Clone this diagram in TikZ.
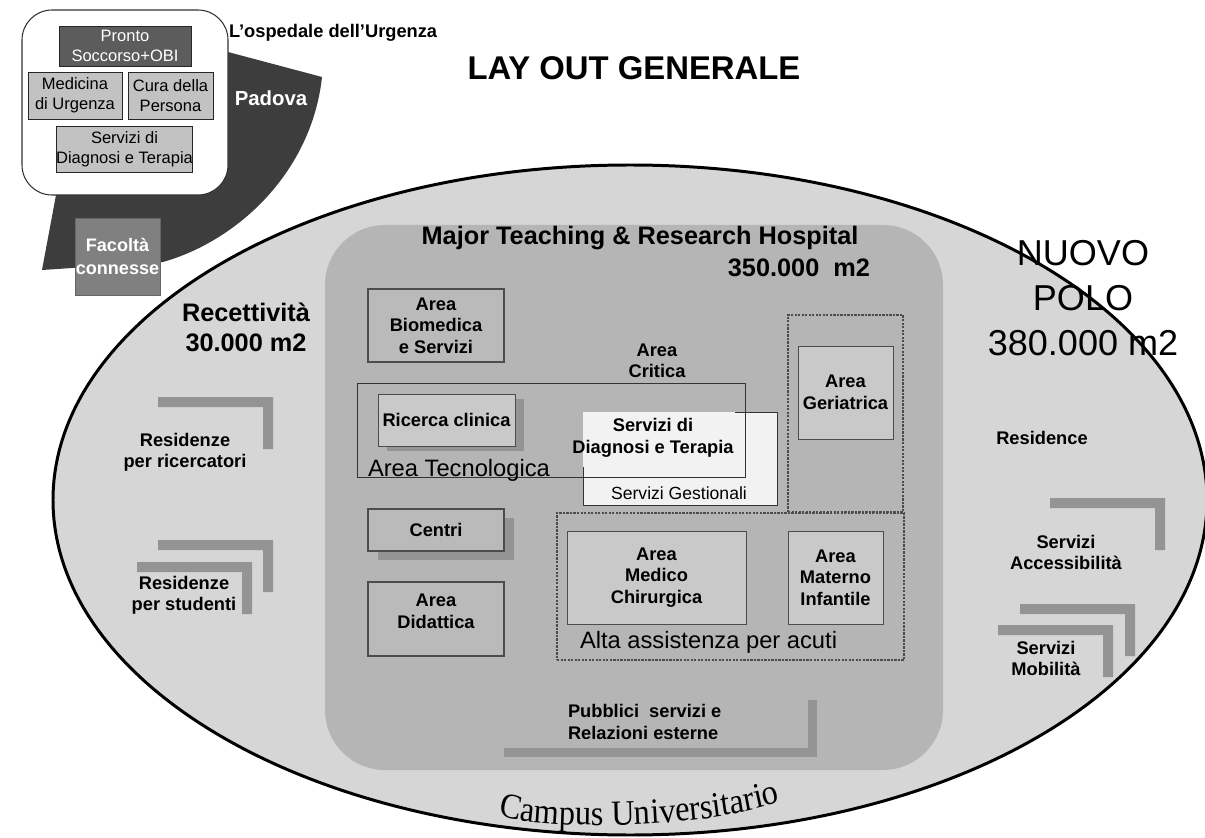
\documentclass[tikz,border=0pt]{standalone}
\usepackage{fontspec}
\setmainfont{Liberation Sans}
\newfontfamily\campusserif{Liberation Serif}
\usetikzlibrary{shapes.geometric,decorations.text}

\definecolor{campusfill}{gray}{0.84}
\definecolor{hospfill}{gray}{0.71}
\definecolor{boxfill}{gray}{0.73}
\definecolor{lightfill}{gray}{0.79}
\definecolor{paperfill}{gray}{0.95}
\definecolor{shadowfill}{gray}{0.58}
\definecolor{padovafill}{gray}{0.24}
\definecolor{prontofill}{gray}{0.36}
\definecolor{urgfill}{gray}{0.76}
\definecolor{facfill}{gray}{0.50}
\definecolor{edge}{gray}{0.30}

\newcommand{\fs}[2]{\fontsize{#1}{#2}\selectfont}

\tikzset{
  every node/.style={inner sep=0pt, outer sep=0pt},
  sz/.style 2 args={minimum width=#1*0.02cm, minimum height=#2*0.02cm},
  lbl/.style={font=\bfseries\fs{10.4}{12.2}, align=center},
  urgbox/.style={draw=black!85, line width=0.5pt, font=\fs{9.4}{11.5}, align=center},
  areabox/.style={draw=edge, line width=0.6pt, fill=boxfill, lbl},
  lightbox/.style={draw=edge, line width=0.5pt, fill=lightfill, lbl},
  zonebox/.style={draw=edge, line width=1.3pt, dash pattern=on 1.3pt off 0.7pt},
  frame/.style={draw=black!80, line width=0.5pt},
  biglabel/.style={font=\bfseries\fs{14.4}{17}, align=center},
  arealabel/.style={font=\fs{13.5}{16}},
  lcorner/.pic={\fill[shadowfill] (0,0) -- (115,0) -- (115,52) -- (105,52) -- (105,10) -- (0,10) -- cycle;}
}

\begin{document}
\begin{tikzpicture}[x=0.02cm, y=-0.02cm]
\useasboundingbox (0,0) rectangle (1205,838);

% --- Padova: the city hospital wedge ---
\fill[padovafill] (42,270) -- (163,262) .. controls (240,240) and (312,170) .. (322,77)
  -- (228,52) -- (70,120) -- cycle;
\node[sz={85}{77}, fill=facfill, draw=black!60, line width=0.4pt, text=white,
  font=\bfseries\fs{10.3}{13}, align=center] (facolta) at (117.5,256.5) {Facoltà\\connesse};

\node[sz={206}{185}, draw=black!80, line width=0.6pt, fill=white, rounded corners=0.6cm]
  (urgenza) at (125,102.5) {};
\node[urgbox, sz={132}{40}, fill=prontofill, text=white] (pronto) at (125,46) {Pronto\\Soccorso+OBI};
\node[urgbox, sz={94}{47}, fill=urgfill] (medicina) at (75,95.5) {Medicina\\di Urgenza};
\node[urgbox, sz={85}{47}, fill=urgfill] (cura) at (170.5,95.5) {Cura della\\Persona};
\node[urgbox, sz={133}{46}, fill=urgfill] (diagurg) at (124.5,149) {Servizi di\\Diagnosi e Terapia};

\node[anchor=west, font=\bfseries\fs{10.4}{12}] (ospedale) at (229,33) {L’ospedale dell’Urgenza};
\node[text=white, font=\bfseries\fs{11.6}{14}] (padova) at (271,98) {Padova};
\node[font=\bfseries\fs{18.7}{22}] (title) at (634,68) {LAY OUT GENERALE};

% --- campus ---
\node[ellipse, draw=black, line width=1.7pt, fill=campusfill,
  minimum width=1154*0.02cm, minimum height=670*0.02cm] (campus) at (630,500) {};

% --- hospital ---
\node[sz={618}{545}, fill=hospfill, rounded corners=1.2cm] (hospital) at (634,497.5) {};
\node[biglabel] (mtrh) at (640,238) {Major Teaching \& Research Hospital};
\node[biglabel, anchor=east] (mq) at (870,268) {350.000~~m2};

\node[areabox, sz={136}{73}] (biomedica) at (436,325.5) {Area\\Biomedica\\e Servizi};
\node[lbl] (critica) at (657,361) {Area\\Critica};

\node[sz={194}{93}, fill=paperfill] (gestionali) at (680,458.5) {};
\draw[frame] (gestionali.north east) -- ++(-42,0);
\draw[frame] (gestionali.north east) -- (gestionali.south east) -- (gestionali.south west) -- ++(0,-38);
\node[font=\fs{10}{12}] (gestlabel) at (679,493) {Servizi Gestionali};

\node[frame, sz={388}{94}] (tecno) at (551,430) {};
\node[arealabel, anchor=base west] (tecnolabel) at (368,476) {Area Tecnologica};

\fill[shadowfill] (387,399) rectangle (524,451);
\node[lightbox, sz={137}{52}] (ricerca) at (446.5,420) {Ricerca clinica};
\node[lbl] (diagnosi) at (653,438) {Servizi di\\Diagnosi e Terapia};

\node[zonebox, sz={115}{197}] (gerzone) at (845.5,413.5) {};
\node[lightbox, sz={95}{93}] (geriatrica) at (845.5,392.5) {Area\\Geriatrica};

\fill[shadowfill] (378,518) rectangle (514,560);
\node[areabox, sz={136}{42}] (centri) at (436,530) {Centri};

\node[areabox, sz={136}{74}] (didattica) at (436,619) {};
\node[lbl] (didlabel) at (436,611.5) {Area\\Didattica};

\node[zonebox, sz={347}{147}] (alta) at (730.5,586.5) {};
\node[lightbox, sz={179}{93}] (medico) at (656.5,577.5) {Area\\Medico\\Chirurgica};
\node[lightbox, sz={95}{93}] (materno) at (835.5,577.5) {Area\\Materno\\Infantile};
\node[arealabel, anchor=base west] (altalabel) at (580,648) {Alta assistenza per acuti};

\fill[shadowfill] (504,700) rectangle (817,757);
\node[sz={313}{57}, fill=hospfill] (pubblici) at (651.5,719.5) {};
\node[lbl, align=left, anchor=west] (publabel) at (568,722) {Pubblici~~servizi e\\Relazioni esterne};

% --- residences, west side ---
\node[biglabel] (recett) at (246,327) {Recettività\\30.000 m2};
\pic at (158,397) {lcorner};
\node[lbl] (ricercatori) at (185,452.5) {Residenze\\per ricercatori};
\pic at (158,540) {lcorner};
\pic at (137,562) {lcorner};
\node[lbl] (studenti) at (184,595.5) {Residenze\\per studenti};

% --- services, east side ---
\node[font=\fs{20.5}{25.8}, align=center] (polo) at (1083,298) {NUOVO\\POLO\\380.000 m2};
\node[lbl] (residence) at (1042,438) {Residence};
\pic at (1050,498) {lcorner};
\node[lbl] (access) at (1066,552.5) {Servizi\\Accessibilità};
\pic at (1020,604) {lcorner};
\pic at (998,625) {lcorner};
\node[lbl] (mobil) at (1046,658.5) {Servizi\\Mobilità};

% --- curved campus caption, slightly stretched vertically ---
\begin{scope}[transform canvas={yscale=1.1}]
\path[decorate, decoration={text along path, text align=center,
  text={|\campusserif\fs{18.4}{20}|Campus Universitario}}]
  (493,738) .. controls (518,755) and (700,757) .. (786,727);
\end{scope}
\end{tikzpicture}
\end{document}
